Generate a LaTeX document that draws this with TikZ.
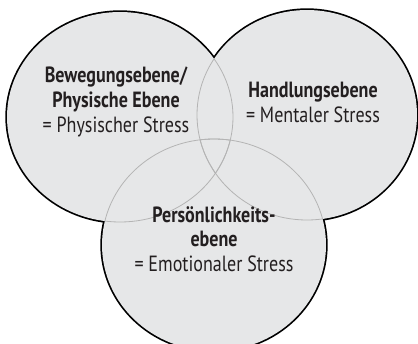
\documentclass[tikz,border=0pt]{standalone}
\usepackage{fontspec}
\setmainfont{PT Sans}[FakeStretch=0.82]
\definecolor{vennfill}{HTML}{E6E7E8}
\definecolor{venninner}{HTML}{B4B4B4}
\definecolor{vtext}{HTML}{231F20}
\begin{document}
\begin{tikzpicture}[x=1pt,y=-1pt,
  outline/.style={draw=black,line width=3.4pt},
  inner/.style={draw=venninner,line width=0.8pt},
  lbl/.style={align=center,font=\fontsize{22}{25}\selectfont,text=vtext,inner sep=0pt,anchor=base}]
\useasboundingbox (0,0) rectangle (418,343);
\coordinate (cA) at (120,117);
\coordinate (cB) at (307,115);
\coordinate (cC) at (214,245);
\def\rA{(cA) ellipse [x radius=113, y radius=105]}
\def\rB{(cB) ellipse [x radius=110, y radius=105]}
\def\rC{(cC) ellipse [x radius=112, y radius=106]}
% outer black lines (inner half later covered by fill)
\draw[outline] \rA;
\draw[outline] \rB;
\draw[outline] \rC;
% fills
\fill[vennfill] \rA;
\fill[vennfill] \rB;
\fill[vennfill] \rC;
% inner gray arcs
\begin{scope}\clip \rB; \draw[inner] \rA; \end{scope}
\begin{scope}\clip \rC; \draw[inner] \rA; \end{scope}
\begin{scope}\clip \rA; \draw[inner] \rB; \end{scope}
\begin{scope}\clip \rC; \draw[inner] \rB; \end{scope}
\begin{scope}\clip \rA; \draw[inner] \rC; \end{scope}
\begin{scope}\clip \rB; \draw[inner] \rC; \end{scope}
% labels
\node[lbl] (tA1) at (116,82) {\bfseries Bewegungsebene/};
\node[lbl] (tA2) at (116,107) {\bfseries Physische Ebene};
\node[lbl] (tA3) at (116,132) {= Physischer Stress};
\node[lbl] (tB1) at (313,97) {\bfseries Handlungsebene};
\node[lbl] (tB2) at (313,122) {= Mentaler Stress};
\node[lbl] (tC1) at (214,222) {\bfseries Persönlichkeits-};
\node[lbl] (tC2) at (214,246) {\bfseries ebene};
\node[lbl] (tC3) at (214,271) {= Emotionaler Stress};
\end{tikzpicture}
\end{document}
